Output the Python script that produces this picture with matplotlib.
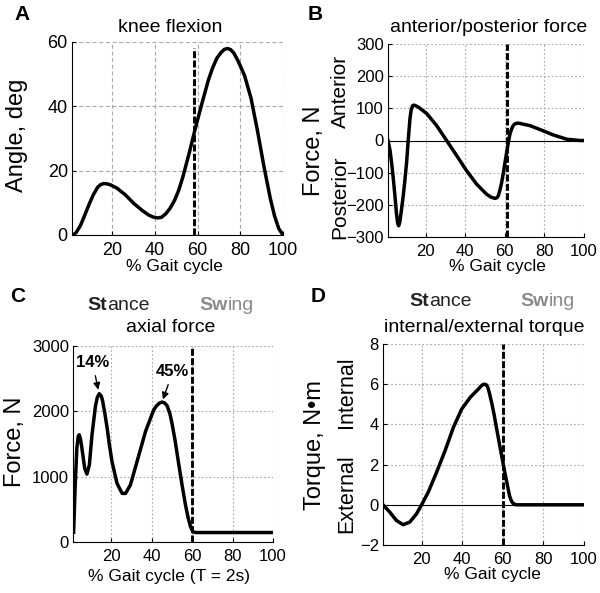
import matplotlib
matplotlib.use('Agg')
import matplotlib.pyplot as plt

plt.rcParams['font.family'] = ['Liberation Sans', 'DejaVu Sans']

# --- data (x in % gait cycle) ---
knee_x = [1.5, 3, 5, 7, 9, 11, 13, 14.5, 16, 17.5, 19, 22, 26, 30, 34, 37, 39, 41, 43,
          45, 47, 49, 51, 53, 56, 59, 62, 65, 67, 69, 71, 72.5, 74, 75.5, 77, 79, 82,
          85, 88, 91, 94, 96, 98, 100]
knee_y = [0, 0.8, 3, 6.2, 9.5, 12.5, 14.8, 15.7, 16, 15.9, 15.6, 14.6, 12.5, 9.8, 7.6,
          6.2, 5.6, 5.3, 5.5, 6.6, 8.3, 10.6, 13.8, 18, 25.5, 33.5, 41, 48.2, 52, 55,
          56.8, 57.7, 58, 57.6, 56.5, 54, 49.5, 42.5, 32.5, 21.5, 11.5, 6, 2, 0]

ap_x = [1, 2, 2.8, 3.7, 4.5, 5.3, 5.9, 6.4, 6.9, 7.6, 8.7, 9.5, 10.4, 11.2, 12.1, 12.7,
        13.4, 14, 15, 16.3, 18, 20.5, 25.5, 30.6, 35.7, 40.7, 45.8, 50.8, 53, 55.1, 56,
        56.7, 57.5, 58.4, 59.3, 60.1, 61, 61.8, 62.6, 63.5, 64.3, 65.2, 66.5, 67.7,
        72.8, 77.8, 84.6, 91.3, 98, 100]
ap_y = [0, -30, -68, -120, -172, -228, -258, -265, -255, -225, -172, -125, -68, 0, 68,
        95, 108, 110, 108, 104, 96, 84, 47, 0, -47, -94, -136, -167, -176, -180, -178,
        -172, -155, -131, -100, -68, -35, -5, 20, 37, 47, 52, 54, 53, 46, 34, 17, 4, 0, 0]

ax_x = [1.3, 2.1, 2.9, 3.6, 4.1, 4.8, 5.4, 6.8, 7.9, 9.1, 10.4, 12.1, 13, 14, 15, 15.7,
        16.8, 17.9, 19, 20.3, 22.8, 25.3, 27.0, 29.4, 32.7, 36.9, 41.0, 42.5, 44, 45.1,
        46.3, 47.6, 49, 50.1, 51.5, 53.4, 55, 56.7, 58, 59.2, 60.3, 61.5, 100]
ax_y = [150, 872, 1436, 1620, 1641, 1560, 1436, 1128, 1040, 1179, 1641, 2077, 2210, 2270,
        2235, 2154, 1960, 1744, 1490, 1231, 897, 744, 744, 872, 1231, 1692, 2026, 2090,
        2130, 2142, 2130, 2085, 1960, 1800, 1560, 1179, 870, 564, 370, 231, 160, 145, 145]

tq_x = [1, 4.3, 7.6, 10.9, 14.2, 17.5, 20, 23.3, 27.4, 31.6, 35.7, 39.8, 44, 48.1, 49.2,
        50.2, 51.1, 51.9, 52.6, 53.3, 54, 54.7, 55.7, 56.7, 58.8, 61.3, 63.3, 64.2, 65,
        66.3, 100]
tq_y = [0, -0.36, -0.78, -0.99, -0.86, -0.45, 0, 0.63, 1.62, 2.7, 3.86, 4.77, 5.35, 5.77,
        5.9, 5.98, 6.0, 5.97, 5.85, 5.6, 5.3, 5.0, 4.5, 3.94, 2.78, 1.46, 0.46, 0.2, 0.08,
        0, 0]

toe_off = [58.2, 61, 60, 60]
peaks = [(14, 2270, '14%'), (45.1, 2142, '45%')]

W, H = 600, 593
fig = plt.figure(figsize=(6, 5.93), dpi=100)


def box(l, t, r, b):
    return [l / W, 1 - b / H, (r - l) / W, (b - t) / H]


def ftext(x, y, s, **kw):
    kw.setdefault('ha', 'center')
    kw.setdefault('va', 'center')
    fig.text(x / W, 1 - y / H, s, **kw)


def style(ax, ylim, yticks, grid_ls, tick_fs):
    ax.set_xlim(1, 100)
    ax.set_ylim(*ylim)
    ax.set_xticks([20, 40, 60, 80, 100])
    ax.set_yticks(yticks)
    ax.spines['top'].set_visible(False)
    ax.spines['right'].set_visible(False)
    ax.tick_params(direction='in', length=3, labelsize=tick_fs)
    ax.tick_params(axis='x', pad=5)
    ax.tick_params(axis='y', pad=3)
    ax.grid(True, color='#a8a8a8', ls=grid_ls, lw=0.8)
    ax.set_axisbelow(True)


dash = (0, (2.4, 0.8))

# A: knee flexion
a = fig.add_axes(box(72, 42, 283, 235))
style(a, (0, 60), [0, 20, 40, 60], (0, (3.6, 2.4)), 13)
a.plot(knee_x, knee_y, color='k', lw=2.5, solid_joinstyle='round')
a.axvline(toe_off[0], ymax=0.97, color='k', lw=2.1, ls=dash)

# B: anterior/posterior force
b = fig.add_axes(box(388, 44, 584, 237))
style(b, (-300, 300), range(-300, 301, 100), (0, (1.5, 2)), 12)
b.axhline(0, color='k', lw=0.8)
b.plot(ap_x, ap_y, color='k', lw=2.5, solid_joinstyle='round')
b.axvline(toe_off[1], color='k', lw=2.1, ls=dash)

# C: axial force
c = fig.add_axes(box(73, 346, 273, 542))
style(c, (0, 3000), [0, 1000, 2000, 3000], (0, (1.5, 2)), 12)
c.plot(ax_x, ax_y, color='k', lw=2.5, solid_joinstyle='round')
c.axvline(toe_off[2], color='k', lw=2.1, ls=dash)
c.annotate(peaks[0][2], xy=(peaks[0][0] - 0.5, peaks[0][1] + 60), xytext=(10.7, 2744),
           ha='center', va='center', fontsize=12, fontweight='bold',
           arrowprops=dict(arrowstyle='-|>', color='k', lw=1, shrinkA=2, shrinkB=0,
                           mutation_scale=10))
c.annotate(peaks[1][2], xy=(peaks[1][0] + 0.4, peaks[1][1] + 40), xytext=(50.4, 2605),
           ha='center', va='center', fontsize=12, fontweight='bold',
           arrowprops=dict(arrowstyle='-|>', color='k', lw=1, shrinkA=2, shrinkB=0,
                           mutation_scale=10))

# D: internal/external torque
d = fig.add_axes(box(383, 344, 584, 545))
style(d, (-2, 8), [-2, 0, 2, 4, 6, 8], (0, (1.5, 2)), 12)
d.axhline(0, color='k', lw=0.8)
d.plot(tq_x, tq_y, color='k', lw=2.5, solid_joinstyle='round')
d.axvline(toe_off[3], color='k', lw=2.1, ls=dash)

# panel letters
for x, y, s in [(22, 14, 'A'), (315, 14, 'B'), (18, 296, 'C'), (318, 296, 'D')]:
    ftext(x, y, s, fontsize=15, fontweight='bold')

# titles
ftext(170, 27, 'knee flexion', fontsize=14)
ftext(489, 27, 'anterior/posterior force', fontsize=14)
ftext(171, 327, 'axial force', fontsize=14)
ftext(484, 328, 'internal/external torque', fontsize=14)

# stance / swing
for split, y in [(107, 305), (429, 301)]:
    ftext(split, y, 'St', ha='right', fontsize=14, fontweight='bold', color='#222222')
    ftext(split, y, 'ance', ha='left', fontsize=14, color='#222222')
for split, y in [(228, 305), (549, 301)]:
    ftext(split, y, 'Sw', ha='right', fontsize=14, fontweight='bold', color='#8a8a8a')
    ftext(split, y, 'ing', ha='left', fontsize=14, color='#8a8a8a')

# axis labels
ftext(174, 267, '% Gait cycle', fontsize=12.5)
ftext(497, 267, '% Gait cycle', fontsize=12.5)
ftext(169, 577, '% Gait cycle (T = 2s)', fontsize=12.5)
ftext(492, 575, '% Gait cycle', fontsize=12.5)

ftext(17, 135, 'Angle, deg', fontsize=17, rotation=90)
ftext(314, 151, 'Force, N', fontsize=17, rotation=90)
ftext(340, 91, 'Anterior', fontsize=15, rotation=90)
ftext(340, 197, 'Posterior', fontsize=15, rotation=90)
ftext(15, 442, 'Force, N', fontsize=17, rotation=90)
ftext(315, 445, 'Torque, N•m', fontsize=17, rotation=90)
ftext(347, 392, 'Internal', fontsize=15.5, rotation=90)
ftext(347, 494, 'External', fontsize=15.5, rotation=90)

fig.savefig('out.png', dpi=100)
